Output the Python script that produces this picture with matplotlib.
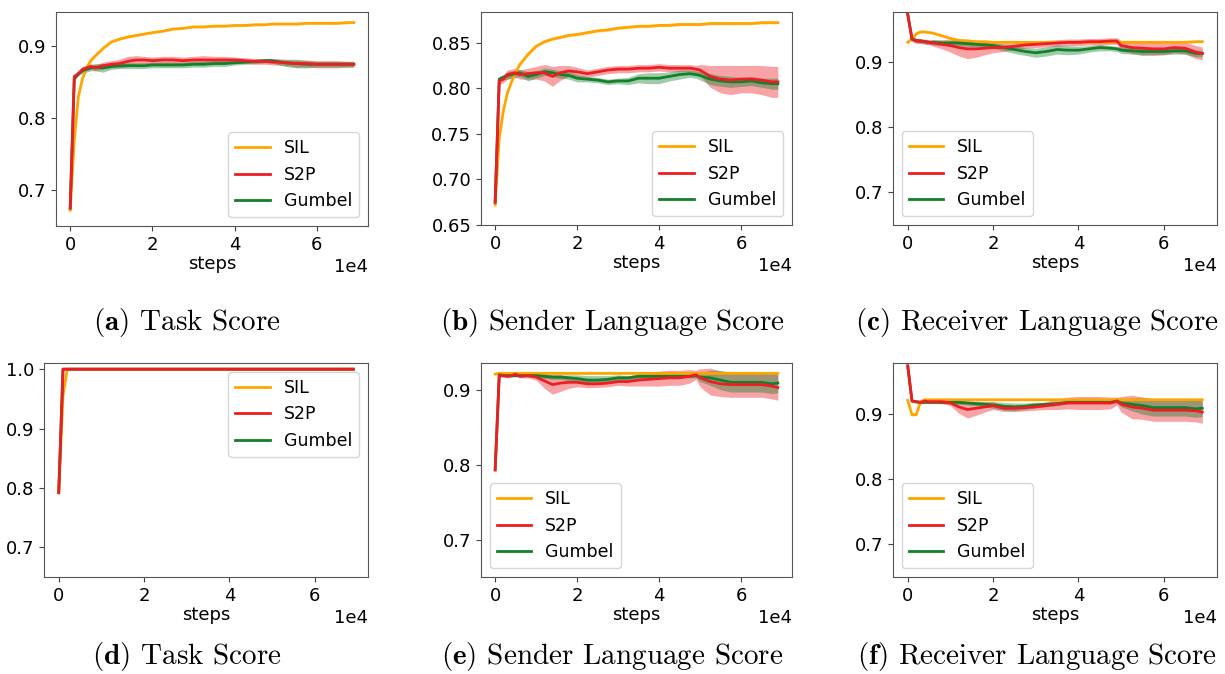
import matplotlib
matplotlib.use("Agg")
import matplotlib.pyplot as plt
from matplotlib.ticker import MultipleLocator

plt.rcParams["mathtext.fontset"] = "cm"

# training steps shared by every run
STEPS = [0, 1000, 2000, 3000, 4000, 5000, 6000, 8000, 10000, 12000, 14000, 16000,
         18000, 20000, 22500, 25000, 27500, 30000, 32500, 35000, 37500, 40000, 42500,
         45000, 47500, 49000, 50000, 52500, 55000, 57500, 60000, 62500, 65000, 67500, 69000]

# (a) task score
SIL_A = [0.672, 0.770, 0.830, 0.855, 0.870, 0.880, 0.886, 0.897, 0.906, 0.910, 0.913, 0.915,
         0.917, 0.919, 0.921, 0.924, 0.925, 0.927, 0.927, 0.928, 0.928, 0.929, 0.929,
         0.930, 0.930, 0.931, 0.931, 0.931, 0.931, 0.932, 0.932, 0.932, 0.932, 0.933, 0.933]
S2P_A = [0.675, 0.858, 0.862, 0.868, 0.870, 0.872, 0.870, 0.873, 0.875, 0.876, 0.879, 0.881,
         0.881, 0.880, 0.881, 0.881, 0.880, 0.881, 0.881, 0.881, 0.881, 0.881, 0.880,
         0.879, 0.879, 0.878, 0.878, 0.877, 0.876, 0.876, 0.875, 0.875, 0.875, 0.875, 0.875]
S2P_A_ERR = [0.0, 0.003, 0.003, 0.004, 0.004, 0.004, 0.004, 0.005, 0.005, 0.006, 0.007, 0.006,
             0.005, 0.005, 0.005, 0.005, 0.005, 0.005, 0.006, 0.005, 0.005, 0.004, 0.004,
             0.004, 0.004, 0.004, 0.004, 0.004, 0.005, 0.005, 0.005, 0.005, 0.005, 0.004, 0.004]
GUM_A = [0.675, 0.855, 0.862, 0.866, 0.868, 0.870, 0.871, 0.870, 0.872, 0.873, 0.873, 0.873,
         0.873, 0.874, 0.874, 0.874, 0.874, 0.875, 0.875, 0.876, 0.876, 0.877, 0.878,
         0.879, 0.880, 0.880, 0.879, 0.877, 0.876, 0.875, 0.875, 0.875, 0.875, 0.875, 0.875]
GUM_A_ERR = [0.0, 0.003, 0.003, 0.003, 0.004, 0.004, 0.005, 0.006, 0.004, 0.004, 0.004, 0.004,
             0.004, 0.004, 0.004, 0.004, 0.004, 0.004, 0.004, 0.004, 0.004, 0.003, 0.003,
             0.003, 0.003, 0.003, 0.004, 0.005, 0.006, 0.005, 0.004, 0.004, 0.004, 0.004, 0.004]

# (b) sender language score
SIL_B = [0.672, 0.745, 0.775, 0.795, 0.807, 0.817, 0.826, 0.837, 0.846, 0.851, 0.854, 0.856,
         0.858, 0.859, 0.861, 0.863, 0.864, 0.866, 0.867, 0.868, 0.868, 0.869, 0.869,
         0.870, 0.870, 0.870, 0.870, 0.871, 0.871, 0.871, 0.871, 0.871, 0.872, 0.872, 0.872]
S2P_B = [0.675, 0.808, 0.810, 0.815, 0.816, 0.817, 0.815, 0.816, 0.817, 0.817, 0.813, 0.817,
         0.819, 0.818, 0.816, 0.818, 0.820, 0.821, 0.821, 0.822, 0.822, 0.823, 0.822,
         0.822, 0.822, 0.821, 0.820, 0.813, 0.810, 0.809, 0.810, 0.810, 0.809, 0.807, 0.807]
S2P_B_ERR = [0.0, 0.004, 0.004, 0.005, 0.005, 0.005, 0.005, 0.006, 0.007, 0.009, 0.011, 0.008,
             0.006, 0.005, 0.004, 0.004, 0.004, 0.004, 0.004, 0.004, 0.004, 0.004, 0.004,
             0.004, 0.004, 0.004, 0.006, 0.012, 0.015, 0.016, 0.015, 0.015, 0.016, 0.017, 0.017]
GUM_B = [0.675, 0.810, 0.812, 0.814, 0.815, 0.816, 0.817, 0.813, 0.815, 0.818, 0.817, 0.815,
         0.814, 0.811, 0.810, 0.809, 0.807, 0.808, 0.808, 0.811, 0.811, 0.811, 0.813,
         0.815, 0.816, 0.815, 0.814, 0.810, 0.808, 0.807, 0.807, 0.808, 0.806, 0.805, 0.805]
GUM_B_ERR = [0.0, 0.003, 0.003, 0.004, 0.004, 0.004, 0.004, 0.005, 0.004, 0.004, 0.004, 0.004,
             0.004, 0.004, 0.003, 0.003, 0.003, 0.003, 0.004, 0.005, 0.006, 0.006, 0.005,
             0.005, 0.004, 0.004, 0.005, 0.006, 0.006, 0.006, 0.005, 0.005, 0.005, 0.006, 0.006]

# (c) receiver language score
SIL_C = [0.930, 0.935, 0.943, 0.946, 0.946, 0.945, 0.944, 0.940, 0.936, 0.933, 0.932, 0.931,
         0.931, 0.930, 0.930, 0.930, 0.930, 0.930, 0.930, 0.930, 0.930, 0.930, 0.930,
         0.930, 0.930, 0.930, 0.930, 0.930, 0.930, 0.930, 0.930, 0.930, 0.930, 0.931, 0.931]
S2P_C = [0.973, 0.935, 0.932, 0.932, 0.931, 0.930, 0.929, 0.927, 0.925, 0.922, 0.920, 0.920,
         0.921, 0.922, 0.922, 0.924, 0.926, 0.927, 0.928, 0.929, 0.930, 0.930, 0.931,
         0.931, 0.932, 0.932, 0.925, 0.922, 0.921, 0.920, 0.920, 0.922, 0.921, 0.915, 0.913]
S2P_C_ERR = [0.0, 0.004, 0.004, 0.004, 0.004, 0.004, 0.005, 0.007, 0.010, 0.013, 0.015, 0.013,
             0.010, 0.008, 0.006, 0.005, 0.005, 0.005, 0.005, 0.005, 0.005, 0.005, 0.005,
             0.005, 0.005, 0.005, 0.008, 0.009, 0.010, 0.010, 0.009, 0.008, 0.009, 0.010, 0.010]
GUM_C = [0.973, 0.935, 0.933, 0.932, 0.931, 0.930, 0.930, 0.929, 0.929, 0.929, 0.928, 0.927,
         0.926, 0.925, 0.922, 0.919, 0.916, 0.914, 0.916, 0.919, 0.918, 0.918, 0.920,
         0.922, 0.921, 0.920, 0.918, 0.917, 0.916, 0.916, 0.916, 0.917, 0.917, 0.913, 0.913]
GUM_C_ERR = [0.0, 0.003, 0.003, 0.003, 0.003, 0.003, 0.004, 0.004, 0.004, 0.004, 0.004, 0.004,
             0.004, 0.004, 0.005, 0.006, 0.006, 0.007, 0.007, 0.007, 0.007, 0.006, 0.005,
             0.005, 0.004, 0.004, 0.005, 0.005, 0.006, 0.005, 0.005, 0.005, 0.005, 0.005, 0.005]

# (d) task score, second setting
SIL_D = [0.792, 0.955, 1.0, 1.0, 1.0, 1.0, 1.0, 1.0, 1.0, 1.0, 1.0, 1.0,
         1.0, 1.0, 1.0, 1.0, 1.0, 1.0, 1.0, 1.0, 1.0, 1.0, 1.0,
         1.0, 1.0, 1.0, 1.0, 1.0, 1.0, 1.0, 1.0, 1.0, 1.0, 1.0, 1.0]
S2P_D = [0.792, 1.0, 1.0, 1.0, 1.0, 1.0, 1.0, 1.0, 1.0, 1.0, 1.0, 1.0,
         1.0, 1.0, 1.0, 1.0, 1.0, 1.0, 1.0, 1.0, 1.0, 1.0, 1.0,
         1.0, 1.0, 1.0, 1.0, 1.0, 1.0, 1.0, 1.0, 1.0, 1.0, 1.0, 1.0]
GUM_D = [0.792, 1.0, 1.0, 1.0, 1.0, 1.0, 1.0, 1.0, 1.0, 1.0, 1.0, 1.0,
         1.0, 1.0, 1.0, 1.0, 1.0, 1.0, 1.0, 1.0, 1.0, 1.0, 1.0,
         1.0, 1.0, 1.0, 1.0, 1.0, 1.0, 1.0, 1.0, 1.0, 1.0, 1.0, 1.0]
ZERO_ERR = [0.0, 0.0, 0.0, 0.0, 0.0, 0.0, 0.0, 0.0, 0.0, 0.0, 0.0, 0.0,
            0.0, 0.0, 0.0, 0.0, 0.0, 0.0, 0.0, 0.0, 0.0, 0.0, 0.0,
            0.0, 0.0, 0.0, 0.0, 0.0, 0.0, 0.0, 0.0, 0.0, 0.0, 0.0, 0.0]

# (e) sender language score, second setting
SIL_E = [0.921, 0.922, 0.922, 0.922, 0.922, 0.922, 0.922, 0.922, 0.922, 0.922, 0.922, 0.922,
         0.922, 0.922, 0.922, 0.922, 0.922, 0.922, 0.922, 0.922, 0.922, 0.922, 0.922,
         0.922, 0.922, 0.922, 0.922, 0.922, 0.922, 0.922, 0.922, 0.922, 0.922, 0.922, 0.922]
S2P_E = [0.793, 0.919, 0.919, 0.918, 0.919, 0.921, 0.918, 0.919, 0.917, 0.912, 0.907, 0.909,
         0.910, 0.910, 0.908, 0.908, 0.909, 0.911, 0.911, 0.913, 0.914, 0.915, 0.916,
         0.916, 0.918, 0.920, 0.916, 0.911, 0.908, 0.907, 0.907, 0.907, 0.907, 0.905, 0.903]
S2P_E_ERR = [0.0, 0.002, 0.002, 0.002, 0.002, 0.002, 0.002, 0.003, 0.004, 0.010, 0.013, 0.011,
             0.008, 0.006, 0.005, 0.005, 0.005, 0.005, 0.006, 0.008, 0.009, 0.010, 0.010,
             0.010, 0.009, 0.006, 0.012, 0.018, 0.017, 0.017, 0.017, 0.017, 0.017, 0.017, 0.017]
GUM_E = [0.793, 0.920, 0.919, 0.919, 0.919, 0.919, 0.919, 0.919, 0.919, 0.918, 0.917, 0.917,
         0.916, 0.915, 0.913, 0.913, 0.914, 0.916, 0.916, 0.918, 0.918, 0.918, 0.918,
         0.918, 0.918, 0.919, 0.917, 0.916, 0.913, 0.910, 0.910, 0.910, 0.910, 0.908, 0.909]
GUM_E_ERR = [0.0, 0.002, 0.002, 0.002, 0.002, 0.002, 0.002, 0.002, 0.002, 0.003, 0.003, 0.003,
             0.004, 0.005, 0.006, 0.006, 0.005, 0.004, 0.003, 0.003, 0.002, 0.002, 0.002,
             0.002, 0.002, 0.003, 0.006, 0.010, 0.013, 0.013, 0.013, 0.013, 0.013, 0.013, 0.013]

# (f) receiver language score, second setting
SIL_F = [0.921, 0.899, 0.899, 0.919, 0.922, 0.922, 0.922, 0.922, 0.922, 0.922, 0.922, 0.922,
         0.922, 0.922, 0.922, 0.922, 0.922, 0.922, 0.922, 0.922, 0.922, 0.922, 0.922,
         0.922, 0.922, 0.922, 0.922, 0.922, 0.922, 0.922, 0.922, 0.922, 0.922, 0.922, 0.922]
S2P_F = [0.974, 0.920, 0.919, 0.918, 0.920, 0.919, 0.919, 0.919, 0.917, 0.911, 0.907, 0.909,
         0.911, 0.913, 0.909, 0.909, 0.910, 0.911, 0.913, 0.915, 0.917, 0.917, 0.917,
         0.917, 0.917, 0.920, 0.915, 0.911, 0.909, 0.906, 0.906, 0.906, 0.906, 0.905, 0.903]
S2P_F_ERR = [0.0, 0.002, 0.002, 0.002, 0.002, 0.002, 0.002, 0.003, 0.004, 0.010, 0.013, 0.011,
             0.008, 0.006, 0.005, 0.005, 0.005, 0.005, 0.006, 0.008, 0.009, 0.010, 0.010,
             0.010, 0.009, 0.006, 0.012, 0.018, 0.017, 0.017, 0.017, 0.017, 0.017, 0.017, 0.017]
GUM_F = [0.974, 0.920, 0.919, 0.918, 0.918, 0.918, 0.918, 0.918, 0.918, 0.918, 0.917, 0.916,
         0.915, 0.914, 0.912, 0.911, 0.912, 0.914, 0.915, 0.916, 0.918, 0.918, 0.918,
         0.918, 0.918, 0.920, 0.917, 0.915, 0.913, 0.910, 0.910, 0.910, 0.910, 0.908, 0.909]
GUM_F_ERR = [0.0, 0.002, 0.002, 0.002, 0.002, 0.002, 0.002, 0.002, 0.002, 0.003, 0.003, 0.003,
             0.004, 0.005, 0.006, 0.006, 0.005, 0.004, 0.003, 0.003, 0.002, 0.002, 0.002,
             0.002, 0.002, 0.003, 0.006, 0.010, 0.013, 0.013, 0.013, 0.013, 0.013, 0.013, 0.013]

SIL_ERR = 0.0015

LABELS = ["SIL", "S2P", "Gumbel"]
COLORS = ["orange", "#ee1d23", "#13802c"]
ZORDERS = [2.2, 2.4, 2.3]  # S2P drawn over the others

PANELS = [
    ("a", "Task Score", [SIL_A, S2P_A, GUM_A], [SIL_ERR, S2P_A_ERR, GUM_A_ERR], "lower right", 0.1),
    ("b", "Sender Language Score", [SIL_B, S2P_B, GUM_B], [SIL_ERR, S2P_B_ERR, GUM_B_ERR], "lower right", 0.05),
    ("c", "Receiver Language Score", [SIL_C, S2P_C, GUM_C], [SIL_ERR, S2P_C_ERR, GUM_C_ERR], "lower left", 0.1),
    ("d", "Task Score", [SIL_D, S2P_D, GUM_D], [ZERO_ERR, ZERO_ERR, ZERO_ERR], "upper right", 0.1),
    ("e", "Sender Language Score", [SIL_E, S2P_E, GUM_E], [SIL_ERR, S2P_E_ERR, GUM_E_ERR], "lower left", 0.1),
    ("f", "Receiver Language Score", [SIL_F, S2P_F, GUM_F], [SIL_ERR, S2P_F_ERR, GUM_F_ERR], "lower left", 0.1),
]

# axes boxes in pixels: left, top, right, bottom
W, H = 1225, 674
BOXES = [(56, 12, 368, 226), (481, 12, 792, 225), (893, 12, 1217, 225),
         (44, 363, 368, 577), (481, 363, 792, 577), (893, 363, 1217, 577)]
CAPTION_X = [187, 612, 1037, 187, 612, 1037]
CAPTION_BASE = [330, 330, 330, 664, 664, 664]
FS = 13
LEG_FS = 12.5

fig = plt.figure(figsize=(W / 100, H / 100), dpi=100)

for i, (tag, title, series, errs, loc, ystep) in enumerate(PANELS):
    l, t, r, b = BOXES[i]
    ax = fig.add_axes([l / W, 1 - b / H, (r - l) / W, (b - t) / H])
    for ys, err, lab, col, z in zip(series, errs, LABELS, COLORS, ZORDERS):
        if isinstance(err, float):
            lo = [y - err for y in ys]
            hi = [y + err for y in ys]
        else:
            lo = [y - e for y, e in zip(ys, err)]
            hi = [y + e for y, e in zip(ys, err)]
        ax.fill_between(STEPS, lo, hi, color=col, alpha=0.4, lw=0, zorder=1)
        ax.plot(STEPS, ys, color=col, lw=2, label=lab, zorder=z)
    ax.set_ylim(bottom=0.65)
    ax.yaxis.set_major_locator(MultipleLocator(ystep))
    ax.set_xticks([0, 20000, 40000, 60000])
    ax.ticklabel_format(axis="x", style="sci", scilimits=(0, 0))
    ax.set_xlabel("steps", fontsize=FS, labelpad=1)
    ax.tick_params(labelsize=FS, color="#444444")
    ax.xaxis.get_offset_text().set_fontsize(FS)
    for sp in ax.spines.values():
        sp.set_color("#555555")
    ax.legend(loc=loc, fontsize=LEG_FS)

    fig.text(CAPTION_X[i] / W, 1 - CAPTION_BASE[i] / H,
             r"$\mathbf{(" + tag + r")}$ " + title,
             fontfamily="cmr10", fontsize=21, ha="center", va="baseline")

fig.savefig("out.png", dpi=100)
